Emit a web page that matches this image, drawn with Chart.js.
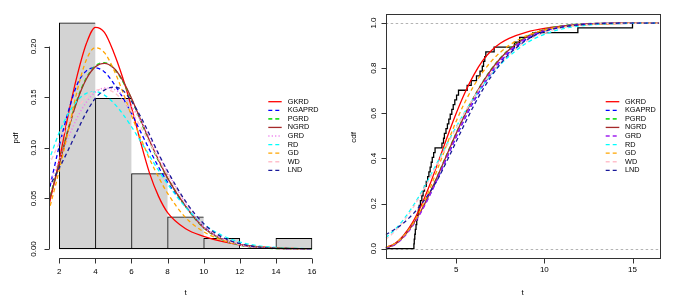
<!DOCTYPE html>
<html>
<head>
<meta charset="utf-8">
<script src="https://cdn.jsdelivr.net/npm/chart.js@4/dist/chart.umd.min.js"></script>
<style>
html,body{margin:0;padding:0;background:#ffffff;}
#wrap{position:relative;width:682px;height:302px;overflow:hidden;}
#pdf{position:absolute;left:0;top:0;}
#cdf{position:absolute;left:341px;top:0;}
</style>
</head>
<body>
<div id="wrap">
<canvas id="pdf" width="341" height="302"></canvas>
<canvas id="cdf" width="341" height="302"></canvas>
</div>
<script>
// ---------------- data ----------------
const seriesNames = ['GKRD','KGAPRD','PGRD','NGRD','GRD','RD','GD','WD','LND'];

// histogram (bins of width 2 from 2 to 16), density values
const histEdges = [2,4,6,8,10,12,14,16];
const histMids = [3,5,7,9,11,13,15];
const histDensity = [0.2234,0.1489,0.0745,0.0319,0.0106,0,0.0106];

// fitted pdf curves
const pdfT      = [1.4,2,2.5,3,3.5,4,4.5,5,5.5,6,6.5,7,7.5,8,9,10,11,12,13,14,16];
const pdfGKRD   = [0.041,0.088,0.133,0.172,0.203,0.219,0.214,0.195,0.170,0.140,0.106,0.075,0.052,0.036,0.020,0.0125,0.0075,0.0042,0.0022,0.0011,0.0002];
const pdfKGAPRD = [0.055,0.102,0.136,0.163,0.176,0.179,0.175,0.164,0.150,0.134,0.116,0.098,0.081,0.066,0.042,0.022,0.011,0.005,0.002,0.0008,0.0001];
const pdfPGRD   = [0.046,0.085,0.119,0.148,0.169,0.181,0.184,0.179,0.166,0.148,0.127,0.106,0.087,0.070,0.042,0.021,0.0095,0.004,0.0015,0.0005,0.0001];
const pdfNGRD   = [0.045,0.084,0.118,0.147,0.168,0.180,0.1835,0.179,0.167,0.149,0.128,0.107,0.088,0.070,0.042,0.021,0.010,0.0042,0.0016,0.0006,0.0001];
const pdfGRD    = [0.062,0.088,0.110,0.130,0.145,0.155,0.159,0.158,0.152,0.141,0.127,0.110,0.093,0.076,0.045,0.022,0.010,0.004,0.0015,0.0005,0.0001];
const pdfRD     = [0.0863,0.1153,0.1338,0.1467,0.1538,0.1554,0.1520,0.1445,0.1338,0.1208,0.1066,0.0920,0.0776,0.0642,0.0413,0.0246,0.0136,0.0069,0.0033,0.0015,0.0002];
const pdfGD     = [0.036,0.078,0.117,0.157,0.187,0.199,0.194,0.178,0.156,0.132,0.110,0.089,0.071,0.055,0.031,0.017,0.009,0.0045,0.0022,0.001,0.0002];
const pdfWD     = [0.082,0.105,0.124,0.139,0.150,0.1565,0.158,0.155,0.147,0.136,0.121,0.105,0.089,0.073,0.046,0.024,0.011,0.0045,0.0016,0.0005,0.0001];
const pdfLND    = [0.060,0.080,0.098,0.117,0.135,0.149,0.157,0.160,0.157,0.146,0.131,0.113,0.094,0.077,0.047,0.025,0.012,0.0052,0.002,0.0008,0.0001];

// fitted cdf curves
const cdfT      = [1,1.5,2,2.5,3,3.5,4,4.5,5,5.5,6,6.5,7,7.5,8,9,10,11,12,13,14,16.5];
const cdfGKRD   = [0.006,0.022,0.058,0.113,0.189,0.283,0.389,0.497,0.600,0.692,0.770,0.833,0.878,0.910,0.932,0.960,0.976,0.986,0.992,0.996,0.998,1.0];
const cdfKGAPRD = [0.005,0.020,0.055,0.103,0.165,0.238,0.320,0.408,0.495,0.578,0.653,0.720,0.778,0.828,0.869,0.929,0.964,0.983,0.992,0.997,0.999,1.0];
const cdfPGRD   = [0.004,0.018,0.053,0.103,0.168,0.246,0.333,0.423,0.512,0.596,0.671,0.738,0.796,0.844,0.883,0.939,0.971,0.987,0.995,0.998,0.9995,1.0];
const cdfNGRD   = [0.004,0.018,0.052,0.102,0.167,0.245,0.332,0.422,0.511,0.595,0.670,0.737,0.795,0.843,0.882,0.938,0.970,0.986,0.994,0.998,0.999,1.0];
const cdfGRD    = [0.004,0.017,0.050,0.098,0.161,0.237,0.322,0.410,0.498,0.582,0.658,0.726,0.785,0.834,0.875,0.934,0.967,0.985,0.994,0.998,0.999,1.0];
const cdfRD     = [0.048,0.083,0.128,0.183,0.247,0.318,0.393,0.468,0.540,0.607,0.668,0.723,0.772,0.815,0.853,0.912,0.950,0.974,0.987,0.994,0.997,1.0];
const cdfGD     = [0.006,0.022,0.055,0.105,0.175,0.265,0.365,0.468,0.565,0.650,0.722,0.782,0.831,0.870,0.901,0.944,0.969,0.983,0.991,0.995,0.998,1.0];
const cdfWD     = [0.040,0.075,0.120,0.175,0.240,0.310,0.385,0.460,0.535,0.605,0.670,0.728,0.779,0.823,0.861,0.920,0.957,0.979,0.990,0.996,0.998,1.0];
const cdfLND    = [0.062,0.085,0.113,0.150,0.195,0.250,0.315,0.393,0.475,0.556,0.634,0.704,0.765,0.818,0.862,0.925,0.962,0.982,0.992,0.997,0.999,1.0];

// observed sample (sorted), read from the empirical cdf steps
const sampleT = [2.60,2.62,2.65,2.68,2.72,2.76,2.80,2.85,2.90,2.97,3.05,3.12,3.20,3.30,3.38,3.45,3.52,3.58,3.64,3.72,3.80,
                 4.19,4.28,4.33,4.42,4.50,4.58,4.66,4.75,4.83,4.92,5.02,5.13,5.62,5.85,
                 6.15,6.35,6.48,6.55,6.62,6.68,7.15,8.30,8.60,9.35,11.90,15.00];

// axis ticks
const pdfXTicks = [2,4,6,8,10,12,14,16];
const pdfXTickLabels = ['2','4','6','8','10','12','14','16'];
const pdfYTicks = [0,0.05,0.10,0.15,0.20];
const pdfYTickLabels = ['0.00','0.05','0.10','0.15','0.20'];
const cdfXTicks = [5,10,15];
const cdfXTickLabels = ['5','10','15'];
const cdfYTicks = [0,0.2,0.4,0.6,0.8,1.0];
const cdfYTickLabels = ['0.0','0.2','0.4','0.6','0.8','1.0'];

// ---------------- styles ----------------
const FONT = '"Liberation Sans", Arial, Helvetica, sans-serif';
const pdfColors = ['#ff0000','#0000ff','#22e022','#a52a2a','#ee82ee','#00ffff','#ffa500','#ffc0cb','#1a1a99'];
const cdfColors = ['#ff0000','#0000ff','#22e022','#a52a2a','#a020f0','#00ffff','#ffa500','#ffc0cb','#1a1a99'];
const DASH = [4,3];
const pdfDashes = [[],DASH,DASH,[],[1.2,2.2],DASH,DASH,DASH,DASH];
const cdfDashes = [[],DASH,DASH,[],DASH,DASH,DASH,DASH,DASH];
const lineWidths = [1.3,1.3,1.6,1.3,1.5,1.3,1.3,1.3,1.3];

const pdfSeries = [pdfGKRD,pdfKGAPRD,pdfPGRD,pdfNGRD,pdfGRD,pdfRD,pdfGD,pdfWD,pdfLND];
const cdfSeries = [cdfGKRD,cdfKGAPRD,cdfPGRD,cdfNGRD,cdfGRD,cdfRD,cdfGD,cdfWD,cdfLND];

function curveDatasets(xs, series, colors, dashes) {
  return series.map((vals, i) => ({
    type: 'line',
    label: seriesNames[i],
    data: xs.map((t, k) => ({x: t, y: vals[k]})),
    borderColor: colors[i],
    borderDash: dashes[i],
    borderWidth: lineWidths[i],
    pointRadius: 0,
    fill: false,
    cubicInterpolationMode: 'monotone',
    order: 8 - i
  }));
}

function txt(ctx, s, x, y, size, rot, align) {
  ctx.save();
  ctx.translate(x, y);
  if (rot) ctx.rotate(rot);
  ctx.font = size + 'px ' + FONT;
  ctx.fillStyle = '#000';
  ctx.textAlign = align || 'center';
  ctx.textBaseline = 'middle';
  ctx.fillText(s, 0, 0);
  ctx.restore();
}

const rPlot = {
  id: 'rPlot',
  beforeDatasetsDraw(chart, args, o) {
    if (!o.refLines) return;
    const ctx = chart.ctx, a = chart.chartArea, ys = chart.scales.y;
    ctx.save();
    ctx.strokeStyle = '#b3b3b3';
    ctx.lineWidth = 1;
    ctx.setLineDash([2.5,2.5]);
    o.refLines.forEach(v => {
      const y = Math.round(ys.getPixelForValue(v)) + 0.5;
      ctx.beginPath(); ctx.moveTo(a.left, y); ctx.lineTo(a.right, y); ctx.stroke();
    });
    ctx.restore();
  },
  afterDatasetsDraw(chart, args, o) {
    if (!o.baseline) return;
    const ctx = chart.ctx, xs = chart.scales.x, ys = chart.scales.y;
    const y = Math.round(ys.getPixelForValue(0)) - 0.5;
    ctx.save();
    ctx.strokeStyle = '#000'; ctx.lineWidth = 1;
    ctx.beginPath();
    ctx.moveTo(xs.getPixelForValue(o.baseline[0]), y);
    ctx.lineTo(xs.getPixelForValue(o.baseline[1]), y);
    ctx.stroke();
    ctx.restore();
  },
  afterDraw(chart, args, o) {
    const ctx = chart.ctx, a = chart.chartArea, xs = chart.scales.x, ys = chart.scales.y;
    ctx.save();
    ctx.strokeStyle = '#333';
    ctx.lineWidth = 1;
    ctx.setLineDash([]);
    if (o.box) {
      ctx.strokeRect(Math.round(a.left) + 0.5, Math.round(a.top) + 0.5,
                     Math.round(a.right - a.left), Math.round(a.bottom - a.top));
    }
    // y axis
    const xl = Math.round(a.left) + 0.5;
    ctx.beginPath();
    if (!o.box) {
      ctx.moveTo(xl, ys.getPixelForValue(o.yTicks[0]));
      ctx.lineTo(xl, ys.getPixelForValue(o.yTicks[o.yTicks.length - 1]));
    }
    o.yTicks.forEach(v => {
      const y = Math.round(ys.getPixelForValue(v)) + 0.5;
      ctx.moveTo(xl, y); ctx.lineTo(xl - 5, y);
    });
    // x axis
    const yb = Math.round(a.bottom) + 0.5;
    if (!o.box) {
      ctx.moveTo(xs.getPixelForValue(o.xTicks[0]), yb);
      ctx.lineTo(xs.getPixelForValue(o.xTicks[o.xTicks.length - 1]), yb);
    }
    o.xTicks.forEach(v => {
      const x = Math.round(xs.getPixelForValue(v)) + 0.5;
      ctx.moveTo(x, yb); ctx.lineTo(x, yb + 5);
    });
    ctx.stroke();
    ctx.restore();

    o.yTicks.forEach((v, i) => txt(ctx, o.yLabels[i], a.left - o.yLabelOff, ys.getPixelForValue(v), 8, -Math.PI / 2));
    o.xTicks.forEach((v, i) => txt(ctx, o.xLabels[i], xs.getPixelForValue(v), a.bottom + o.xLabelOff, 8, 0));
    txt(ctx, o.xTitle, o.xTitlePos[0], o.xTitlePos[1], 8, 0);
    txt(ctx, o.yTitle, o.yTitlePos[0], o.yTitlePos[1], 8, -Math.PI / 2);

    // legend
    const L = o.legend;
    seriesNames.forEach((name, i) => {
      const y = L.y0 + i * L.dy;
      ctx.save();
      ctx.strokeStyle = L.colors[i];
      ctx.setLineDash(L.dashes[i]);
      ctx.lineWidth = lineWidths[i];
      ctx.beginPath(); ctx.moveTo(L.x0, y); ctx.lineTo(L.x1, y); ctx.stroke();
      ctx.restore();
      txt(ctx, name, L.tx, y, 7.3, 0, 'left');
    });
  }
};

// ---------------- left panel: histogram + pdfs ----------------
const histDataset = {
  type: 'bar',
  label: 'hist',
  data: histMids.map((m, i) => ({x: m, y: histDensity[i]})),
  backgroundColor: '#d3d3d3',
  borderColor: '#000000',
  borderWidth: c => {
    const i = c.dataIndex;
    const last = (i === histDensity.length - 1) || histDensity[i + 1] === 0;
    return {top: 1, left: 1, bottom: 1, right: last ? 1 : 0};
  },
  borderSkipped: false,
  barPercentage: 1,
  categoryPercentage: 1,
  order: 20
};

new Chart(document.getElementById('pdf'), {
  type: 'line',
  data: { datasets: [histDataset].concat(curveDatasets(pdfT, pdfSeries, pdfColors, pdfDashes)) },
  options: {
    responsive: false,
    animation: false,
    events: [],
    layout: { padding: { left: 49.2, right: 18.2, top: 14.2, bottom: 44.3 } },
    scales: {
      x: { type: 'linear', min: 1.44, max: 16.6, display: false, offset: false },
      y: { type: 'linear', min: -0.0086, max: 0.232, display: false }
    },
    plugins: {
      legend: { display: false },
      tooltip: { enabled: false },
      rPlot: {
        box: false,
        baseline: [histEdges[0], histEdges[histEdges.length - 1]],
        xTicks: pdfXTicks, xLabels: pdfXTickLabels,
        yTicks: pdfYTicks, yLabels: pdfYTickLabels,
        yLabelOff: 15, xLabelOff: 13.7,
        xTitle: 't', xTitlePos: [185.7, 292.7],
        yTitle: 'pdf', yTitlePos: [15.7, 138],
        legend: { x0: 268.3, x1: 281.7, tx: 287.7, y0: 101.7, dy: 8.575, colors: pdfColors, dashes: pdfDashes }
      }
    }
  },
  plugins: [rPlot]
});

// ---------------- right panel: ecdf + cdfs ----------------
const ecdfPoints = [{x: 1.0, y: 0}]
  .concat(sampleT.map((t, i) => ({x: t, y: (i + 1) / sampleT.length})))
  .concat([{x: 16.52, y: 1}]);

const ecdfDataset = {
  type: 'line',
  label: 'ecdf',
  data: ecdfPoints,
  borderColor: '#000000',
  borderWidth: 1.3,
  pointRadius: 0,
  stepped: 'before',
  fill: false,
  order: 20
};

new Chart(document.getElementById('cdf'), {
  type: 'line',
  data: { datasets: [ecdfDataset].concat(curveDatasets(cdfT, cdfSeries, cdfColors, cdfDashes)) },
  options: {
    responsive: false,
    animation: false,
    events: [],
    layout: { padding: { left: 44.7, right: 22.7, top: 14, bottom: 44.3 } },
    scales: {
      x: { type: 'linear', min: 1.0, max: 16.52, display: false },
      y: { type: 'linear', min: -0.04, max: 1.04, display: false }
    },
    plugins: {
      legend: { display: false },
      tooltip: { enabled: false },
      rPlot: {
        box: true,
        refLines: [0, 1],
        xTicks: cdfXTicks, xLabels: cdfXTickLabels,
        yTicks: cdfYTicks, yLabels: cdfYTickLabels,
        yLabelOff: 12.4, xLabelOff: 12,
        xTitle: 't', xTitlePos: [181.7, 292.7],
        yTitle: 'cdf', yTitlePos: [13, 137.3],
        legend: { x0: 264.7, x1: 278.3, tx: 284, y0: 101.7, dy: 8.575, colors: cdfColors, dashes: cdfDashes }
      }
    }
  },
  plugins: [rPlot]
});
</script>
</body>
</html>
